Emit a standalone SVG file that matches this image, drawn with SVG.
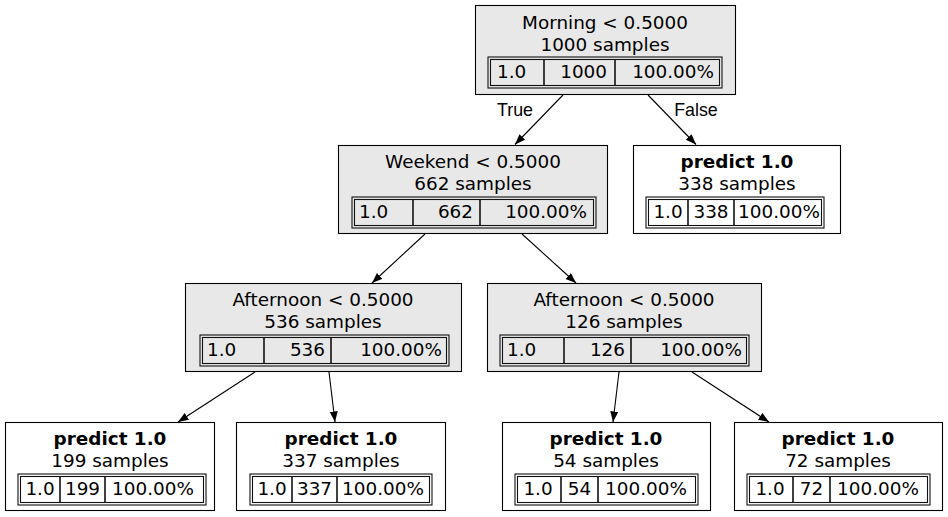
<svg xmlns="http://www.w3.org/2000/svg" width="948" height="517" viewBox="0 0 948 517">
<defs>
<marker id="arr" markerUnits="userSpaceOnUse" markerWidth="11" markerHeight="9" refX="10.5" refY="4" orient="auto">
<path d="M0,0 L10.5,4 L0,8 z" fill="#000"/>
</marker>
</defs>
<style>
.box{stroke:#000;stroke-width:1.1}
.int{fill:#e8e8e8}
.leaf{fill:#fff}
.tb{fill:none;stroke:#111;stroke-width:1.1}
.dv{stroke:#111;stroke-width:1.6}
text{font-family:"DejaVu Sans",Verdana,sans-serif;font-size:18.4px;fill:#000}
.c{text-anchor:middle}
.e{text-anchor:end}
.b{font-weight:bold}
.lbl{font-family:"Liberation Sans",Arial,sans-serif;font-size:17.8px;text-anchor:middle}
.edge{stroke:#000;stroke-width:1.1;fill:none;marker-end:url(#arr)}
</style>
<rect width="948" height="517" fill="#fff"/>
<g id="connectors">
<line class="edge" x1="563" y1="95" x2="515" y2="144.5"/>
<line class="edge" x1="648" y1="95" x2="696" y2="144.5"/>
<line class="edge" x1="425" y1="234" x2="372" y2="283"/>
<line class="edge" x1="522" y1="234" x2="576" y2="283"/>
<line class="edge" x1="255" y1="372" x2="178" y2="422"/>
<line class="edge" x1="329" y1="372" x2="335" y2="422"/>
<line class="edge" x1="619" y1="372" x2="613" y2="422"/>
<line class="edge" x1="692" y1="372" x2="769" y2="422"/>
<text class="lbl" x="515" y="116">True</text>
<text class="lbl" x="696" y="116">False</text>
</g>
<g id="node-root">
<rect class="box int" x="475.5" y="5.5" width="260" height="89"/>
<text class="c" x="605" y="28.5">Morning &lt; 0.5000</text>
<text class="c" x="605" y="51">1000 samples</text>
<rect class="tb" x="488" y="57" width="234" height="31"/>
<rect class="tb" x="490.5" y="59.5" width="229" height="26"/>
<line class="dv" x1="544" y1="59.5" x2="544" y2="85.5"/>
<line class="dv" x1="615" y1="59.5" x2="615" y2="85.5"/>
<text x="497" y="78">1.0</text>
<text class="e" x="607" y="78">1000</text>
<text class="e" x="714" y="78">100.00%</text>
</g>
<g id="node-weekend">
<rect class="box int" x="338.5" y="145.5" width="269" height="88"/>
<text class="c" x="473" y="168">Weekend &lt; 0.5000</text>
<text class="c" x="473" y="190">662 samples</text>
<rect class="tb" x="352" y="197" width="244" height="31"/>
<rect class="tb" x="354.5" y="199.5" width="239" height="26"/>
<line class="dv" x1="413" y1="199.5" x2="413" y2="225.5"/>
<line class="dv" x1="480" y1="199.5" x2="480" y2="225.5"/>
<text x="359" y="218">1.0</text>
<text class="e" x="473" y="218">662</text>
<text class="e" x="587" y="218">100.00%</text>
</g>
<g id="node-leaf338">
<rect class="box leaf" x="633.5" y="145.5" width="207" height="88"/>
<text class="c b" x="737" y="168">predict 1.0</text>
<text class="c" x="737" y="190">338 samples</text>
<rect class="tb" x="646" y="197" width="178" height="31"/>
<rect class="tb" x="648.5" y="199.5" width="173" height="26"/>
<line class="dv" x1="688" y1="199.5" x2="688" y2="225.5"/>
<line class="dv" x1="734" y1="199.5" x2="734" y2="225.5"/>
<text class="c" x="668" y="218">1.0</text>
<text class="c" x="711" y="218">338</text>
<text class="c" x="779" y="218">100.00%</text>
</g>
<g id="node-afternoon536">
<rect class="box int" x="185.5" y="283.5" width="276" height="88"/>
<text class="c" x="323" y="306">Afternoon &lt; 0.5000</text>
<text class="c" x="323" y="328">536 samples</text>
<rect class="tb" x="200" y="335" width="249" height="31"/>
<rect class="tb" x="202.5" y="337.5" width="244" height="26"/>
<line class="dv" x1="264" y1="337.5" x2="264" y2="363.5"/>
<line class="dv" x1="331" y1="337.5" x2="331" y2="363.5"/>
<text x="207" y="356">1.0</text>
<text class="e" x="325" y="356">536</text>
<text class="e" x="442" y="356">100.00%</text>
</g>
<g id="node-afternoon126">
<rect class="box int" x="487.5" y="283.5" width="274" height="88"/>
<text class="c" x="624" y="306">Afternoon &lt; 0.5000</text>
<text class="c" x="624" y="328">126 samples</text>
<rect class="tb" x="500" y="335" width="249" height="31"/>
<rect class="tb" x="502.5" y="337.5" width="244" height="26"/>
<line class="dv" x1="564" y1="337.5" x2="564" y2="363.5"/>
<line class="dv" x1="631" y1="337.5" x2="631" y2="363.5"/>
<text x="507" y="356">1.0</text>
<text class="e" x="625" y="356">126</text>
<text class="e" x="742" y="356">100.00%</text>
</g>
<g id="node-leaf199">
<rect class="box leaf" x="5.5" y="422.5" width="209" height="88"/>
<text class="c b" x="110" y="445">predict 1.0</text>
<text class="c" x="110" y="467">199 samples</text>
<rect class="tb" x="18" y="474" width="188" height="31"/>
<rect class="tb" x="20.5" y="476.5" width="183" height="26"/>
<line class="dv" x1="60" y1="476.5" x2="60" y2="502.5"/>
<line class="dv" x1="105" y1="476.5" x2="105" y2="502.5"/>
<text class="c" x="40" y="495">1.0</text>
<text class="c" x="82.5" y="495">199</text>
<text class="c" x="153" y="495">100.00%</text>
</g>
<g id="node-leaf337">
<rect class="box leaf" x="236.5" y="422.5" width="209" height="88"/>
<text class="c b" x="341" y="445">predict 1.0</text>
<text class="c" x="341" y="467">337 samples</text>
<rect class="tb" x="250" y="474" width="182" height="31"/>
<rect class="tb" x="252.5" y="476.5" width="177" height="26"/>
<line class="dv" x1="292" y1="476.5" x2="292" y2="502.5"/>
<line class="dv" x1="337" y1="476.5" x2="337" y2="502.5"/>
<text class="c" x="272" y="495">1.0</text>
<text class="c" x="314.5" y="495">337</text>
<text class="c" x="383" y="495">100.00%</text>
</g>
<g id="node-leaf54">
<rect class="box leaf" x="502.5" y="422.5" width="208" height="88"/>
<text class="c b" x="606" y="445">predict 1.0</text>
<text class="c" x="606" y="467">54 samples</text>
<rect class="tb" x="515" y="474" width="183" height="31"/>
<rect class="tb" x="517.5" y="476.5" width="178" height="26"/>
<line class="dv" x1="561" y1="476.5" x2="561" y2="502.5"/>
<line class="dv" x1="598" y1="476.5" x2="598" y2="502.5"/>
<text class="c" x="538" y="495">1.0</text>
<text class="c" x="579.5" y="495">54</text>
<text class="c" x="646" y="495">100.00%</text>
</g>
<g id="node-leaf72">
<rect class="box leaf" x="734.5" y="422.5" width="208" height="88"/>
<text class="c b" x="838" y="445">predict 1.0</text>
<text class="c" x="838" y="467">72 samples</text>
<rect class="tb" x="747" y="474" width="183" height="31"/>
<rect class="tb" x="749.5" y="476.5" width="178" height="26"/>
<line class="dv" x1="793" y1="476.5" x2="793" y2="502.5"/>
<line class="dv" x1="830" y1="476.5" x2="830" y2="502.5"/>
<text class="c" x="770" y="495">1.0</text>
<text class="c" x="811.5" y="495">72</text>
<text class="c" x="878" y="495">100.00%</text>
</g>
</svg>
